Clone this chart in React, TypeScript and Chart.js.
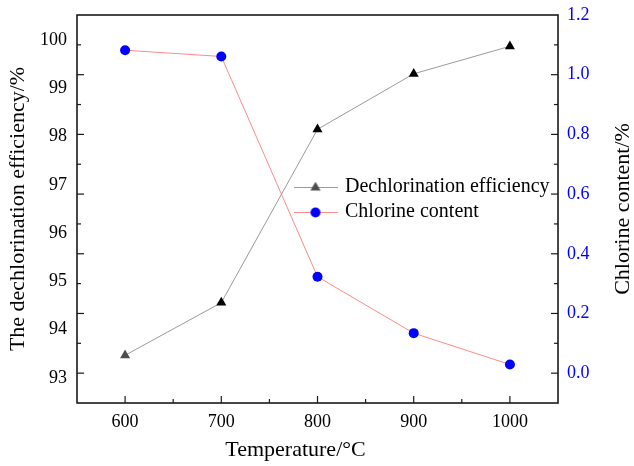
import React, { useEffect, useRef } from 'react';
import { Chart, registerables } from 'chart.js';

Chart.register(...registerables);

// ---- data ----
const temperatures = [600, 700, 800, 900, 1000];
const dechlorinationEfficiency = [93.47, 94.56, 98.15, 99.3, 99.87];
const chlorineContent = [1.082, 1.061, 0.323, 0.134, 0.029];

// ---- tick labels ----
const leftTickValues = [93, 94, 95, 96, 97, 98, 99, 100];
const rightTickValues = [0, 0.2, 0.4, 0.6, 0.8, 1.0, 1.2];
const rightMarkValues = [0, 0.1, 0.2, 0.3, 0.4, 0.5, 0.6, 0.7, 0.8, 0.9, 1.0, 1.1];
const xMarkValues = [600, 650, 700, 750, 800, 850, 900, 950, 1000];
const rightTitle = 'Chlorine content/%';

const SERIF = '"Times New Roman", "Liberation Serif", serif';

function makeIcon(shape: 'triangle' | 'circle', fill: string, line: string) {
  const c = document.createElement('canvas');
  c.width = 44;
  c.height = 14;
  const g = c.getContext('2d')!;
  g.strokeStyle = line;
  g.lineWidth = 1;
  g.beginPath();
  g.moveTo(0, 7.5);
  g.lineTo(44, 7.5);
  g.stroke();
  g.fillStyle = fill;
  g.beginPath();
  if (shape === 'circle') {
    g.arc(22, 7.5, 5, 0, Math.PI * 2);
  } else {
    const r = 5.8;
    g.moveTo(22, 7.5 - r);
    g.lineTo(22 + r * 0.866, 7.5 + r / 2);
    g.lineTo(22 - r * 0.866, 7.5 + r / 2);
    g.closePath();
  }
  g.fill();
  return c;
}

const noPad = (s: any) => {
  s.paddingTop = 0;
  s.paddingBottom = 0;
  s.paddingLeft = 0;
  s.paddingRight = 0;
};

const frameTicks = {
  id: 'frameTicks',
  afterLayout(chart: any) {
    const lg = chart.legend;
    if (lg) {
      const ca = chart.chartArea;
      lg.left = ca.left + 214;
      lg.top = ca.top + 157;
      lg.right = lg.left + lg.width;
      lg.bottom = lg.top + lg.height;
    }
  },
  afterDatasetsDraw(chart: any) {
    const { ctx, chartArea, scales } = chart;
    const { left, right, top, bottom } = chartArea;
    const x = scales.x;
    const y2 = scales.y2;
    ctx.save();
    ctx.strokeStyle = '#1a1a1a';
    ctx.lineWidth = 1.2;
    const seg = (x1: number, y1: number, x2: number, y2_: number) => {
      ctx.beginPath();
      ctx.moveTo(x1, y1);
      ctx.lineTo(x2, y2_);
      ctx.stroke();
    };
    rightMarkValues.forEach((v) => {
      const py = y2.getPixelForValue(v);
      const major = Math.round(v * 10) % 2 === 0;
      const len = major ? 7 : 4;
      seg(left, py, left + len, py);
      seg(right, py, right - len, py);
    });
    xMarkValues.forEach((v) => {
      const px = x.getPixelForValue(v);
      const len = v % 100 === 0 ? 7 : 4;
      seg(px, bottom, px, bottom - len);
    });
    ctx.lineWidth = 1.6;
    ctx.strokeRect(left, top, right - left, bottom - top);

    // right axis title, reading bottom-to-top
    ctx.translate(y2.right - 11, (top + bottom) / 2);
    ctx.rotate(-Math.PI / 2);
    ctx.fillStyle = '#000';
    ctx.font = `22px ${SERIF}`;
    ctx.textAlign = 'center';
    ctx.textBaseline = 'middle';
    ctx.fillText(rightTitle, 0, 0);
    ctx.restore();
  },
};

export default function App() {
  const ref = useRef<HTMLCanvasElement | null>(null);

  useEffect(() => {
    if (!ref.current) return;
    const icons = [
      makeIcon('triangle', '#4d4d4d', '#9a9a9a'),
      makeIcon('circle', '#0000ff', '#ff8a8a'),
    ];
    const chart = new Chart(ref.current, {
      type: 'line',
      data: {
        datasets: [
          {
            label: 'Dechlorination efficiency',
            data: temperatures.map((t, i) => ({ x: t, y: dechlorinationEfficiency[i] })),
            yAxisID: 'y',
            borderColor: '#9a9a9a',
            borderWidth: 1,
            pointStyle: 'triangle',
            pointRadius: 5.8,
            pointBackgroundColor: ['#4d4d4d', '#000000', '#000000', '#000000', '#000000'],
            pointBorderWidth: 0,
            pointBorderColor: 'rgba(0,0,0,0)',
            tension: 0,
          },
          {
            label: 'Chlorine content',
            data: temperatures.map((t, i) => ({ x: t, y: chlorineContent[i] })),
            yAxisID: 'y2',
            borderColor: '#ff8a8a',
            borderWidth: 1,
            pointStyle: 'circle',
            pointRadius: 5,
            pointBackgroundColor: '#0000ff',
            pointBorderWidth: 0,
            pointBorderColor: 'rgba(0,0,0,0)',
            tension: 0,
          },
        ],
      },
      options: {
        animation: false,
        responsive: false,
        devicePixelRatio: 1,
        layout: { padding: { top: 15, left: 0, right: 0, bottom: 0 } },
        plugins: {
          tooltip: { enabled: false },
          legend: {
            position: 'chartArea',
            align: 'start',
            labels: {
              usePointStyle: true,
              pointStyleWidth: 39,
              padding: 5,
              color: '#000',
              font: { family: SERIF, size: 20 },
              generateLabels: (c: any) =>
                c.data.datasets.map((ds: any, i: number) => ({
                  text: ds.label,
                  pointStyle: icons[i],
                  fillStyle: 'rgba(0,0,0,0)',
                  strokeStyle: 'rgba(0,0,0,0)',
                  lineWidth: 0,
                  hidden: false,
                  datasetIndex: i,
                  fontColor: '#000',
                })),
            },
          },
        },
        scales: {
          x: {
            type: 'linear',
            position: 'bottom',
            min: 550,
            max: 1050,
            afterBuildTicks: (s: any) => {
              s.ticks = temperatures.map((v) => ({ value: v }));
            },
            afterFit: (s: any) => {
              s.height = 63;
              noPad(s);
            },
            grid: { display: false, drawTicks: false },
            border: { display: false },
            ticks: {
              color: '#000',
              font: { family: SERIF, size: 18 },
              padding: 8,
              maxRotation: 0,
              autoSkip: false,
              callback: (v: any) => String(v),
            },
            title: {
              display: true,
              text: 'Temperature/°C\u00A0\u00A0\u00A0\u00A0\u00A0\u00A0\u00A0\u00A0',
              color: '#000',
              font: { family: SERIF, size: 22, lineHeight: 1 },
              padding: { top: 0, bottom: 5 },
            },
          },
          y: {
            type: 'linear',
            position: 'left',
            min: 92.482,
            max: 100.518,
            afterBuildTicks: (s: any) => {
              s.ticks = leftTickValues.map((v) => ({ value: v }));
            },
            afterFit: (s: any) => {
              s.width = 77;
              noPad(s);
            },
            grid: { display: false, drawTicks: false },
            border: { display: false },
            ticks: {
              color: '#000',
              font: { family: SERIF, size: 18 },
              padding: 10,
              autoSkip: false,
            },
            title: {
              display: true,
              text: 'The dechlorination efficiency/%',
              color: '#000',
              font: { family: SERIF, size: 22, lineHeight: 1 },
              padding: { top: 7, bottom: 0 },
            },
          },
          y2: {
            type: 'linear',
            position: 'right',
            min: -0.1,
            max: 1.2,
            afterBuildTicks: (s: any) => {
              s.ticks = rightTickValues.map((v) => ({ value: v }));
            },
            afterFit: (s: any) => {
              s.width = 76;
              noPad(s);
            },
            grid: { display: false, drawTicks: false },
            border: { display: false },
            ticks: {
              color: '#0000ff',
              font: { family: SERIF, size: 18 },
              padding: 9,
              autoSkip: false,
              callback: (v: any) => Number(v).toFixed(1),
            },
            title: { display: false },
          },
        },
      },
      plugins: [frameTicks],
    } as any);
    return () => chart.destroy();
  }, []);

  return (
    <div style={{ position: 'fixed', left: 0, top: 0, width: 634, height: 466, background: '#fff' }}>
      <canvas ref={ref} width={634} height={466} />
    </div>
  );
}
